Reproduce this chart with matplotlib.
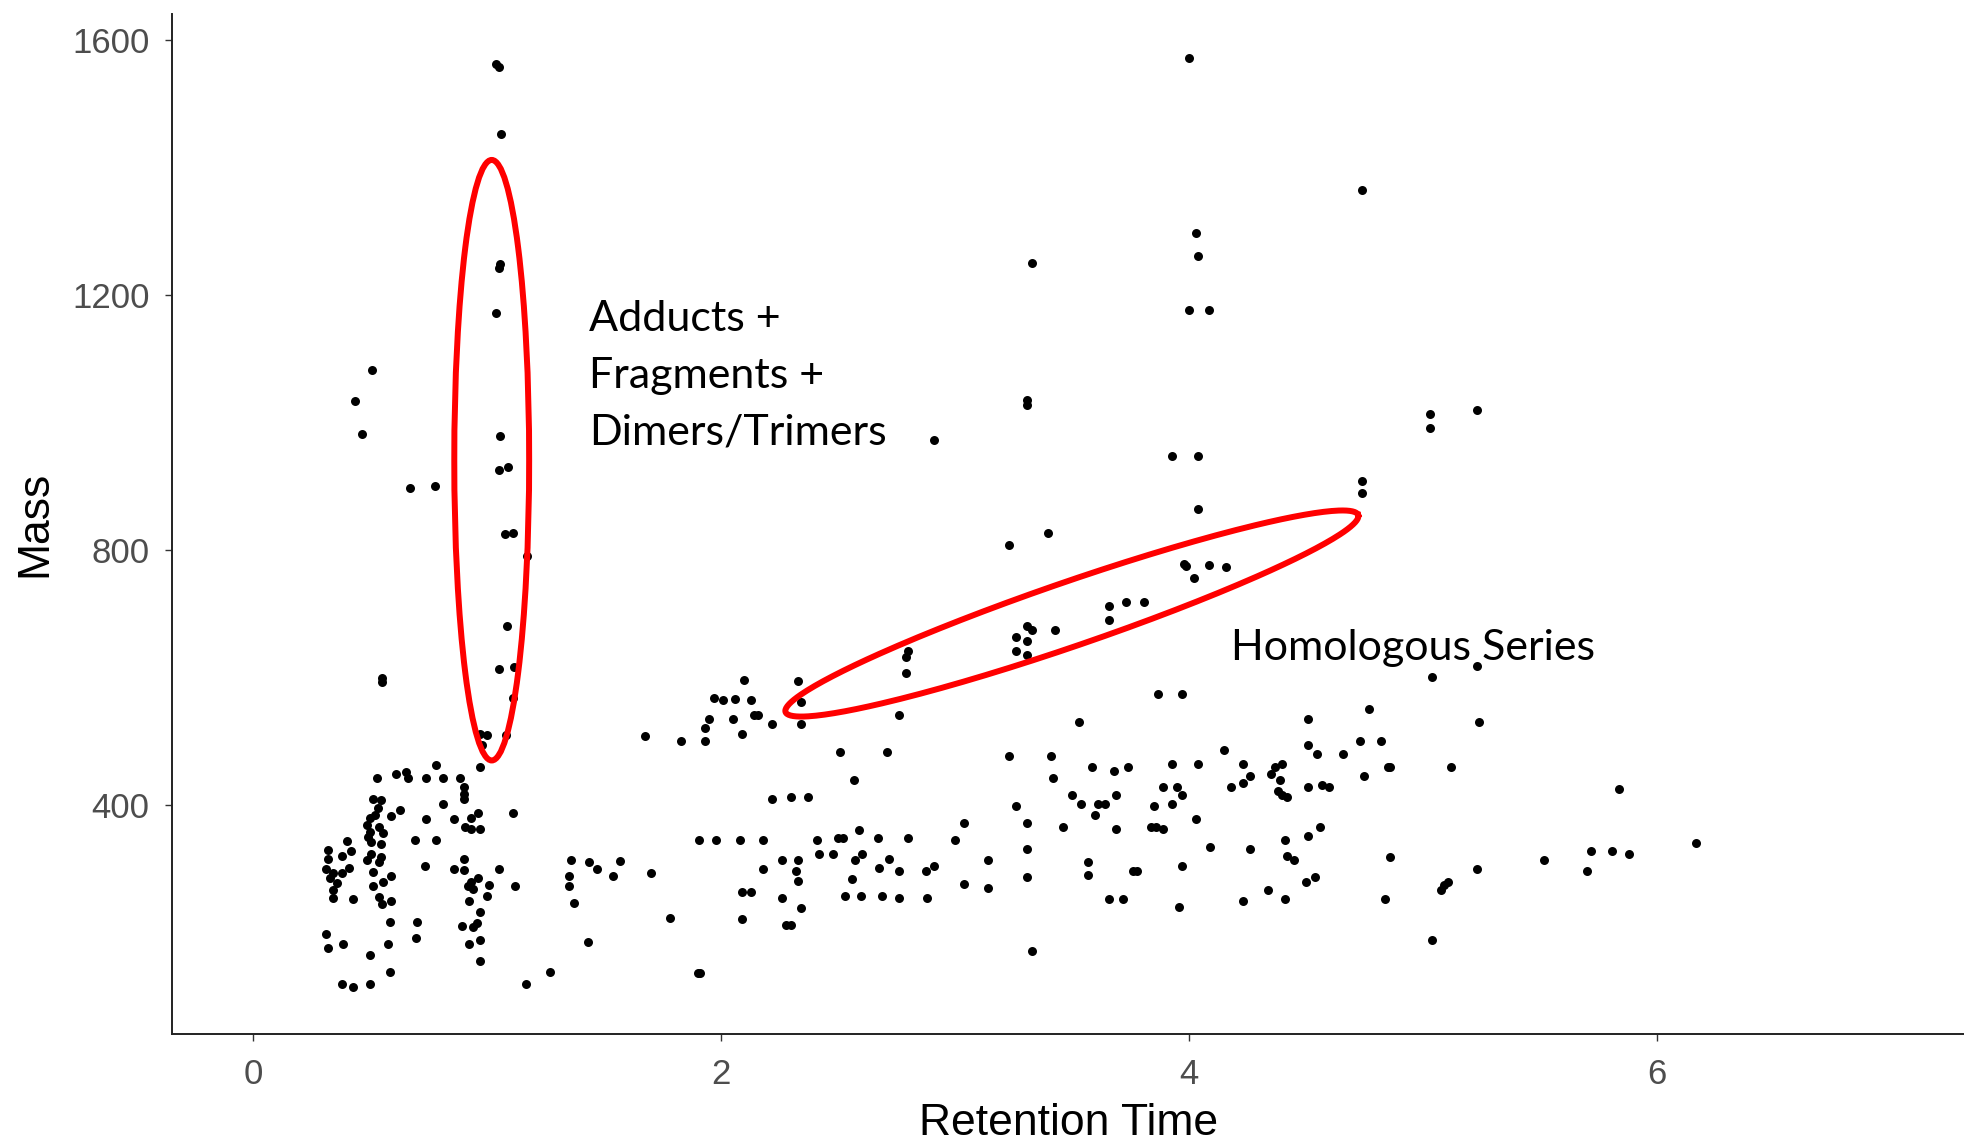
import matplotlib
matplotlib.use('Agg')
import matplotlib.pyplot as plt
from matplotlib.patches import Ellipse
import numpy as np

# retention time / mass pairs (low mass band, left cluster)
rt_early = [0.97, 1.00, 0.98, 1.08, 0.97, 0.78, 0.53, 0.61, 0.655, 0.66, 0.74, 0.81, 0.886, 0.90, 0.90,
            0.90, 0.514, 0.545, 0.535, 0.52, 0.50, 0.485, 0.50, 0.49, 0.505, 0.54, 0.555, 0.545, 0.627,
            0.59, 0.81, 0.74, 0.86, 0.96, 0.93, 0.905, 0.93, 0.97, 1.11, 0.69, 0.78, 0.40, 0.32, 0.42,
            0.38, 0.32, 0.505, 0.545, 0.485, 0.54, 0.735, 0.41, 0.31, 0.34, 0.38, 0.33, 0.36, 0.34, 0.34,
            0.425, 0.514, 0.555, 0.59, 0.514, 0.54, 0.55, 0.59, 0.90, 0.86, 0.90, 0.93, 0.96, 0.92, 0.94,
            1.01, 0.998, 1.05, 1.12, 0.925, 0.97, 0.895, 0.94, 0.955, 0.925, 0.97, 0.97, 0.585, 0.70,
            0.695, 0.577, 0.31, 0.32, 0.385, 0.50, 0.585, 0.38, 0.425, 0.50, 1.165, 1.27, 1.43, 1.36,
            1.435, 1.47, 1.54, 1.57, 1.35, 1.35, 1.37]
mass_early = [512, 510, 494, 510, 460, 463, 442, 449, 452, 442, 442, 442, 442, 428, 418,
              409, 410, 408, 395, 384, 379, 369, 358, 350, 342, 366, 356, 339, 392,
              383, 402, 378, 378, 387, 380, 366, 363, 363, 387, 346, 346, 344, 329, 328,
              320, 316, 324, 319, 314, 311, 305, 302, 299, 293, 293, 285, 277, 267, 255,
              252, 295, 280, 288, 273, 256, 245, 249, 316, 299, 298, 280, 285, 273, 269,
              274, 257, 299, 273, 249, 232, 211, 209, 215, 182, 188, 156, 217, 217,
              191, 182, 197, 176, 182, 165, 138, 120, 115, 120, 120, 138, 186, 314,
              310, 299, 288, 312, 288, 273, 247]

# middle of the run, 1.6 - 3.2 min
rt_mid = [1.675, 1.83, 1.93, 1.93, 1.95, 1.97, 2.01, 2.06, 2.10, 2.05, 2.13, 2.14, 2.16, 2.09, 2.22,
          2.33, 2.34, 2.34, 2.76, 2.51, 2.71, 2.57, 2.22, 2.30, 2.37, 1.906, 1.98, 2.08, 2.18, 2.41,
          2.50, 2.52, 2.59, 2.67, 2.80, 3.04, 3.00, 3.14, 3.04, 3.14, 2.26, 2.33, 2.18, 2.32, 2.33,
          2.42, 2.48, 2.575, 2.605, 2.72, 2.675, 2.76, 2.56, 2.875, 2.91, 2.09, 2.13, 2.26, 2.53,
          2.60, 2.69, 2.76, 2.88, 2.34, 2.09, 2.28, 2.30, 1.78, 1.90, 1.91, 1.70]
mass_mid = [509, 501, 501, 521, 535, 568, 565, 567, 597, 535, 565, 542, 542, 512, 527,
            594, 562, 527, 542, 483, 483, 439, 410, 413, 413, 346, 346, 346, 346, 346,
            349, 349, 361, 349, 349, 372, 346, 314, 276, 270, 314, 314, 299, 296, 281,
            323, 323, 314, 323, 316, 302, 296, 284, 296, 305, 264, 264, 255, 258,
            258, 258, 255, 255, 238, 221, 212, 212, 223, 136, 136, 294]

# late eluting features, 3.2 - 6.2 min
rt_late = [3.53, 3.23, 3.41, 3.42, 3.585, 3.68, 3.74, 3.50, 3.54, 3.61, 3.64, 3.69, 3.60, 3.26, 3.31,
           3.46, 3.69, 3.31, 3.31, 3.33, 3.57, 3.57, 3.76, 3.78, 3.66, 3.72, 3.96, 3.97, 4.09, 4.03,
           3.85, 3.93, 3.89, 3.95, 3.97, 3.93, 4.04, 3.84, 3.86, 3.89, 4.15, 4.23, 4.26, 4.23, 4.18,
           4.37, 4.40, 4.35, 4.39, 4.38, 4.40, 4.42, 4.51, 4.51, 4.55, 4.51, 4.57, 4.60, 4.66, 4.73,
           4.82, 4.77, 4.75, 4.85, 4.86, 4.56, 4.51, 4.41, 4.42, 4.45, 4.26, 4.54, 4.50, 4.34, 4.23,
           4.41, 4.86, 4.84, 5.23, 5.24, 5.12, 5.84, 5.23, 5.08, 5.09, 5.11, 5.04, 5.52, 5.72, 5.81,
           5.88, 5.70, 6.17]
mass_late = [530, 477, 477, 442, 459, 454, 459, 416, 402, 402, 402, 416, 384, 398, 372,
             366, 363, 331, 287, 171, 311, 290, 296, 296, 253, 253, 240, 305, 334, 378,
             398, 402, 428, 428, 416, 465, 465, 366, 366, 363, 486, 465, 445, 434, 428,
             460, 465, 448, 439, 422, 416, 413, 535, 495, 480, 428, 431, 428, 480, 500,
             500, 550, 445, 460, 460, 366, 352, 346, 320, 314, 331, 287, 279, 267, 249,
             253, 319, 253, 618, 530, 460, 425, 299, 267, 275, 279, 188, 314, 328, 328,
             323, 296, 340]

# high mass points (adducts, dimers, homologues)
rt_high = [1.04, 1.05, 1.06, 1.05, 1.055, 1.04, 0.51, 0.435, 0.466, 1.055, 1.05, 1.09, 0.67, 0.776,
           1.076, 1.11, 1.17, 1.087, 1.05, 1.115, 0.55, 0.55, 1.11,
           4.00, 4.74, 4.03, 4.04, 3.33, 4.00, 4.085, 3.31, 3.31, 2.91, 3.93, 4.04, 5.03, 5.03, 4.74,
           4.74, 4.04, 3.23, 3.40, 3.99, 3.98, 4.02, 4.085, 4.16, 3.66, 3.66, 3.73, 3.81, 3.31, 3.33,
           3.26, 3.31, 3.26, 3.31, 3.43, 2.80, 2.79, 2.79, 5.04, 3.87, 3.97, 5.23]
mass_high = [1563, 1558, 1452, 1243, 1248, 1172, 1083, 1034, 982, 979, 926, 931, 897, 900,
             825, 827, 791, 681, 613, 616, 600, 593, 568,
             1572, 1365, 1297, 1261, 1250, 1177, 1177, 1035, 1028, 973, 947, 947, 1014, 991, 909,
             889, 864, 808, 827, 775, 778, 756, 777, 773, 712, 691, 718, 718, 681, 674,
             663, 658, 642, 636, 674, 642, 632, 607, 601, 574, 574, 1020]

x_ticks = [0, 2, 4, 6]
y_ticks = [400, 800, 1200, 1600]
group_label = ['Adducts +', 'Fragments +', 'Dimers/Trimers']
series_label = 'Homologous Series'

rt = rt_early + rt_mid + rt_late + rt_high
mass = mass_early + mass_mid + mass_late + mass_high

fig = plt.figure(figsize=(19.65, 11.44), dpi=100)
ax = fig.add_axes([0.0875, 0.0962, 0.9125, 0.8916])

ax.scatter(rt, mass, s=42, color='black', linewidths=0, zorder=3)

ax.set_xlim(-0.347, 7.318)
ax.set_ylim(41, 1641)
ax.set_xticks(x_ticks)
ax.set_yticks(y_ticks)

for side in ['top', 'right']:
    ax.spines[side].set_visible(False)
for side in ['left', 'bottom']:
    ax.spines[side].set_linewidth(1.4)
    ax.spines[side].set_color('#222222')

ax.tick_params(axis='both', length=5, width=1.0, color='#333333',
               labelcolor='#4D4D4D', labelsize=25)
ax.tick_params(axis='x', pad=12)
ax.tick_params(axis='y', pad=11)
for lab in ax.get_xticklabels() + ax.get_yticklabels():
    lab.set_family('Liberation Sans')

ax.set_xlabel('Retention Time', fontsize=32, family='Liberation Sans', labelpad=9)
ax.set_ylabel('Mass', fontsize=32, family='Liberation Sans', labelpad=12)

# red highlight around the in-source products
ax.add_patch(Ellipse((1.02, 941), width=0.32, height=942, fill=False,
                     edgecolor='red', linewidth=4.3, zorder=4))

# tilted ellipse along the homologous series
t = np.linspace(0, 2 * np.pi, 300)
ex = 3.50 + 1.224 * np.cos(t) + 0.0445 * np.sin(t)
ey = 700.5 + 154.5 * np.cos(t) - 47.5 * np.sin(t)
ax.plot(ex, ey, color='red', linewidth=4.3, zorder=4)

for i, line in enumerate(group_label):
    ax.text(1.437, [1143, 1054, 965][i], line, fontsize=31, family='Lato',
            ha='left', va='baseline', color='black')
ax.text(4.18, 628, series_label, fontsize=31, family='Lato',
        ha='left', va='baseline', color='black')

fig.savefig('out.png', dpi=100)
